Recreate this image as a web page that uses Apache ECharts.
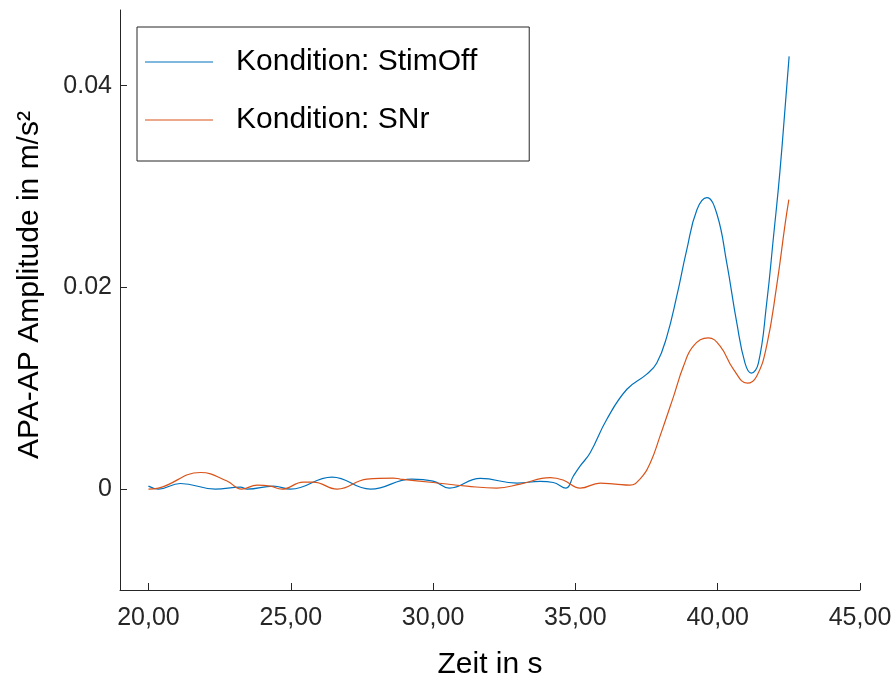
<!DOCTYPE html>
<html>
<head>
<meta charset="utf-8">
<script src="https://cdn.jsdelivr.net/npm/echarts@6/dist/echarts.min.js"></script>
<style>
    html, body { margin: 0; padding: 0; background: #fff; }
    #chart { width: 894px; height: 678px; }
</style>
</head>
<body>
<div id="chart"></div>
<script>
    // Zeitpunkte (s) und Amplituden (m/s²)
    const stimOffX = [20.0, 20.35, 21.12, 22.35, 23.23, 23.47, 24.39, 24.99, 26.45, 27.8, 29.25, 30.0, 30.57, 31.66, 32.95, 33.76, 34.22, 34.67, 34.93, 35.17, 35.52, 36.1, 36.81, 37.51, 37.86, 38.21, 38.56, 38.91, 39.27, 39.62, 39.97, 40.32, 40.67, 40.96, 41.18, 41.43, 41.72, 41.96, 42.19, 42.51];
    const stimOffY = [0.0003, 0.0, 0.00056, 0.0, 0.0002, 0.0, 0.0003, 0.0, 0.0012, 0.0, 0.001, 0.0008, 0.0001, 0.00106, 0.0006, 0.00076, 0.00066, 0.0001, 0.0013, 0.0023, 0.0036, 0.0069, 0.0099, 0.0114, 0.0125, 0.0151, 0.0191, 0.0237, 0.0277, 0.0289, 0.0273, 0.0224, 0.0165, 0.0125, 0.0115, 0.0125, 0.0184, 0.025, 0.0316, 0.0429];

    const snrX = [20.0, 20.35, 21.83, 22.76, 23.27, 23.82, 24.28, 24.69, 25.44, 25.79, 26.63, 27.68, 28.6, 28.85, 30.0, 31.19, 32.24, 33.06, 34.12, 34.57, 35.17, 35.87, 36.4, 36.92, 37.27, 37.63, 37.98, 38.45, 38.8, 39.15, 39.67, 40.08, 40.55, 41.04, 41.37, 41.72, 42.07, 42.37, 42.5];
    const snrY = [0.0, 0.0001, 0.00165, 0.0008, 0.0, 0.0004, 0.0003, 0.0, 0.0007, 0.0007, 0.0, 0.001, 0.0011, 0.001, 0.00066, 0.0003, 0.0001, 0.0005, 0.00115, 0.0009, 0.0001, 0.0006, 0.0005, 0.0004, 0.001, 0.0026, 0.0053, 0.0092, 0.0122, 0.0142, 0.015, 0.0142, 0.0119, 0.0105, 0.0112, 0.0142, 0.0201, 0.0263, 0.0287];

    const xTicks = [20, 25, 30, 35, 40, 45];
    const yTicks = [0, 0.02, 0.04];
    const seriesNames = ['Kondition: StimOff', 'Kondition: SNr'];

    const font = '"Liberation Sans", Arial, Helvetica, sans-serif';
    const axisColor = '#262626';

    const chart = echarts.init(document.getElementById('chart'));

    const toPairs = (xs, ys) => xs.map((x, i) => [x, ys[i]]);

    const option = {
        animation: false,
        color: ['#0072BD', '#D95319'],
        grid: {
            left: 120,
            right: 34,
            top: 10,
            bottom: 88,
            outerBoundsMode: 'none'
        },
        legend: {
            left: 137,
            top: 27,
            orient: 'vertical',
            backgroundColor: '#fff',
            borderColor: axisColor,
            borderWidth: 1,
            padding: [20, 52, 26, 8],
            icon: 'rect',
            itemWidth: 68,
            itemHeight: 1.2,
            itemGap: 28,
            textStyle: {
                fontFamily: font,
                fontSize: 30,
                lineHeight: 30,
                color: '#000',
                padding: [0, 0, 0, 18]
            },
            data: seriesNames
        },
        xAxis: {
            type: 'value',
            min: 19,
            max: 45,
            name: 'Zeit in s',
            nameLocation: 'middle',
            nameGap: 60,
            nameTextStyle: {
                fontFamily: font,
                fontSize: 30,
                color: '#000'
            },
            axisLine: { onZero: false, lineStyle: { color: axisColor, width: 1 } },
            axisTick: {
                inside: true,
                length: 7,
                customValues: xTicks,
                lineStyle: { color: axisColor }
            },
            axisLabel: {
                customValues: xTicks,
                margin: 16,
                fontFamily: font,
                fontSize: 25,
                color: axisColor,
                formatter: v => v.toFixed(2).replace('.', ',')
            },
            splitLine: { show: false }
        },
        yAxis: {
            type: 'value',
            min: -0.01,
            max: 0.0475,
            name: 'APA-AP Amplitude in m/s²',
            nameLocation: 'middle',
            nameGap: 75,
            nameTextStyle: {
                fontFamily: font,
                fontSize: 30,
                color: '#000',
                padding: [0, 0, 0, 30]
            },
            axisLine: { show: true, onZero: false, lineStyle: { color: axisColor, width: 1 } },
            axisTick: {
                show: true,
                inside: true,
                length: 7,
                customValues: yTicks,
                lineStyle: { color: axisColor }
            },
            axisLabel: {
                customValues: yTicks,
                margin: 8,
                fontFamily: font,
                fontSize: 25,
                color: axisColor,
                formatter: v => (v === 0 ? '0' : v.toFixed(2))
            },
            splitLine: { show: false }
        },
        series: [
            {
                name: seriesNames[0],
                type: 'line',
                symbol: 'none',
                smooth: 0.45,
                lineStyle: { width: 1.2 },
                data: toPairs(stimOffX, stimOffY)
            },
            {
                name: seriesNames[1],
                type: 'line',
                symbol: 'none',
                smooth: 0.45,
                lineStyle: { width: 1.2 },
                data: toPairs(snrX, snrY)
            }
        ]
    };

    chart.setOption(option);
</script>
</body>
</html>
